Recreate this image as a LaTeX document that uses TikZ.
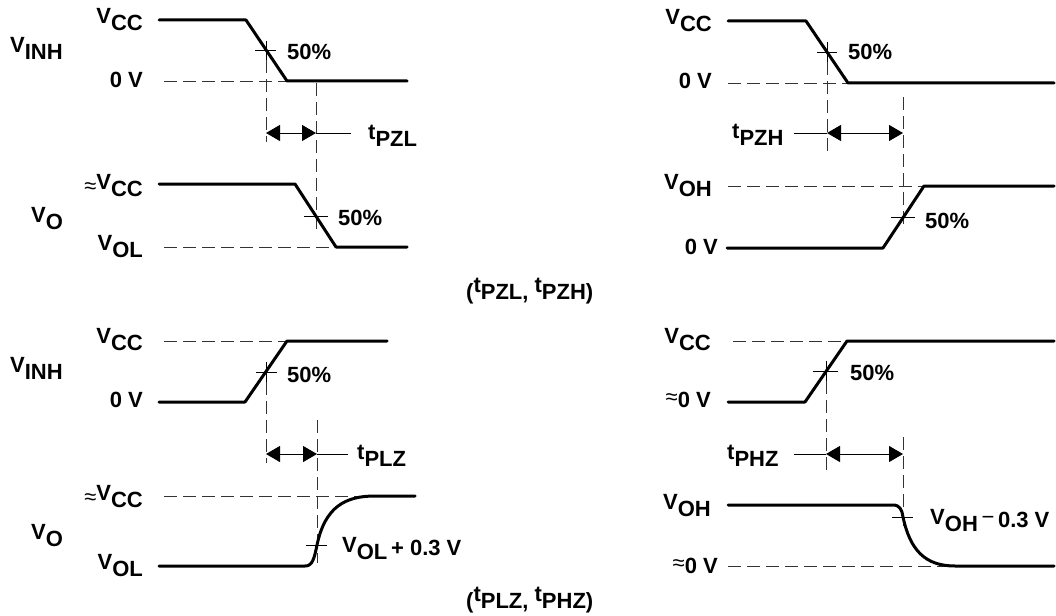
\documentclass[tikz,border=0pt]{standalone}
\usepackage{fontspec}
\setmainfont{Liberation Sans}
\usetikzlibrary{arrows.meta}
\newcommand\sg[2]{\raisebox{0.32em}{#1}#2}
\newcommand\apx{\raisebox{0.16em}{\mdseries ≈}}
\tikzset{
  wave/.style={line width=3pt, line cap=round, line join=round},
  refl/.style={line width=0.9pt, black!80, dash pattern=on 13pt off 6pt},
  tickl/.style={line width=0.9pt},
  dimarrow/.style={line width=1pt, {Triangle[length=14pt,width=16pt]}-{Triangle[length=14pt,width=16pt]}},
  lbl/.style={inner sep=0pt, font=\fontsize{22}{24}\selectfont\bfseries},
  lr/.style={lbl, anchor=east},
  ll/.style={lbl, anchor=west}
}
\begin{document}
\begin{tikzpicture}[x=1pt,y=-1pt]
\useasboundingbox (0,0) rectangle (1056,615);

% ================= top-left (tPZL) =================
\node[ll] (tlvinh) at (10,48) {\sg{V}{INH}};
\node[lr] (tlvcc) at (143,20) {\sg{V}{CC}};
\node[lr] (tl0v) at (143,80) {0 V};
\node[ll] (tl50a) at (287,52) {50\%};
\node[ll] (tltpzl) at (368,136) {\sg{t}{PZL}};
\node[lr] (tlavcc) at (143,186) {\apx\sg{V}{CC}};
\node[ll] (tlvo) at (31,219) {\sg{V}{O}};
\node[ll] (tl50b) at (338,218) {50\%};
\node[lr] (tlvol) at (143,247) {\sg{V}{OL}};

\draw[refl] (164,81) -- (287,81);
\draw[wave] (159,20) -- (246,20) -- (287,81) -- (407,81);
\draw[tickl] (255,50.5) -- (276,50.5) (266,41) -- (266,60);
\draw[refl] (266,60) -- (266,142);
\draw[refl] (316,83) -- (316,230);
\coordinate (tla) at (266,133);
\coordinate (tlb) at (316,133);
\coordinate (tlc) at (351,133);
\draw[dimarrow] (tla) -- (tlb);
\draw[tickl] (tlb) -- (tlc);
\draw[refl] (164,247) -- (336,247);
\draw[wave] (159,184) -- (295,184) -- (336,247) -- (407,247);
\draw[tickl] (304,216) -- (328,216);

% ================= top-right (tPZH) =================
\node[lr] (trvcc) at (712,21) {\sg{V}{CC}};
\node[ll] (tr50a) at (848,52) {50\%};
\node[lr] (tr0v) at (712,81) {0 V};
\node[ll] (trtpzh) at (732,135) {\sg{t}{PZH}};
\node[lr] (trvoh) at (712,186) {\sg{V}{OH}};
\node[ll] (tr50b) at (925,221) {50\%};
\node[lr] (tr0vb) at (718,247) {0 V};

\draw[refl] (728,83) -- (848,83);
\draw[wave] (728,21) -- (806,21) -- (848,83) -- (1054,83);
\draw[tickl] (817,52) -- (837,52) (827,42) -- (827,62);
\draw[refl] (827,62) -- (827,152);
\draw[refl] (903,97) -- (903,230);
\coordinate (tra) at (827,133);
\coordinate (trb) at (903,133);
\coordinate (trc) at (794,133);
\draw[dimarrow] (tra) -- (trb);
\draw[tickl] (trc) -- (tra);
\draw[refl] (728,186) -- (924,186);
\draw[wave] (727,248) -- (883,248) -- (924,186) -- (1054,186);
\draw[tickl] (891,217) -- (915,217);

% ================= bottom-left (tPLZ) =================
\node[ll] (blvinh) at (10,368) {\sg{V}{INH}};
\node[lr] (blvcc) at (143,340) {\sg{V}{CC}};
\node[ll] (bl50) at (287,375) {50\%};
\node[lr] (bl0v) at (143,400) {0 V};
\node[ll] (bltplz) at (357,456) {\sg{t}{PLZ}};
\node[lr] (blavcc) at (143,497) {\apx\sg{V}{CC}};
\node[ll] (blvo) at (31,536) {\sg{V}{O}};
\node[ll] (blvol3) at (342,549) {\sg{V}{OL}\,\raisebox{0.2em}{+ 0.3 V}};
\node[lr] (blvol) at (143,566) {\sg{V}{OL}};

\draw[refl] (164,341) -- (287,341);
\draw[wave] (159,402) -- (245,402) -- (287,341) -- (387,341);
\draw[tickl] (256,372) -- (277,372) (266,362) -- (266,382);
\draw[refl] (266,382) -- (266,463);
\draw[refl] (317,420) -- (317,563);
\coordinate (bla) at (266,454);
\coordinate (blb) at (317,454);
\coordinate (blc) at (348,454);
\draw[dimarrow] (bla) -- (blb);
\draw[tickl] (blb) -- (blc);
\draw[refl] (164,496) -- (372,496);
\draw[wave] (159,566) -- (305,566) .. controls (312,566) and (314,560) .. (317,545)
  .. controls (325,507) and (345,496) .. (375,496) -- (415,496);
\draw[tickl] (306,545) -- (327,545);

% ================= bottom-right (tPHZ) =================
\node[lr] (brvcc) at (711,340) {\sg{V}{CC}};
\node[ll] (br50) at (850,373) {50\%};
\node[lr] (br0v) at (711,400) {\apx 0 V};
\node[ll] (brtphz) at (727,456) {\sg{t}{PHZ}};
\node[lr] (brvoh) at (711,506) {\sg{V}{OH}};
\node[ll] (brvoh3) at (930,521) {\sg{V}{OH}\,\raisebox{0.32em}{\mdseries −}\,\raisebox{0.2em}{0.3 V}};
\node[lr] (br0vb) at (718,566) {\apx 0 V};

\draw[refl] (733,341) -- (847,341);
\draw[wave] (728,402) -- (805,402) -- (847,341) -- (1054,341);
\draw[tickl] (813,371) -- (838,371) (826,361) -- (826,381);
\draw[refl] (826,381) -- (826,473);
\draw[refl] (903,437) -- (903,527);
\coordinate (bra) at (826,454);
\coordinate (brb) at (903,454);
\coordinate (brc) at (794,454);
\draw[dimarrow] (bra) -- (brb);
\draw[tickl] (brc) -- (bra);
\draw[refl] (728,566) -- (955,566);
\draw[wave] (728,505) -- (893,505) .. controls (900,505) and (902,510) .. (903,517)
  .. controls (910,550) and (925,566) .. (955,566) -- (1054,566);
\draw[tickl] (892,517) -- (913,517);

% ================= captions =================
\node[ll] (cap1) at (466,291) {(\sg{t}{PZL}, \sg{t}{PZH})};
\node[ll] (cap2) at (466,600) {(\sg{t}{PLZ}, \sg{t}{PHZ})};
\end{tikzpicture}
\end{document}
